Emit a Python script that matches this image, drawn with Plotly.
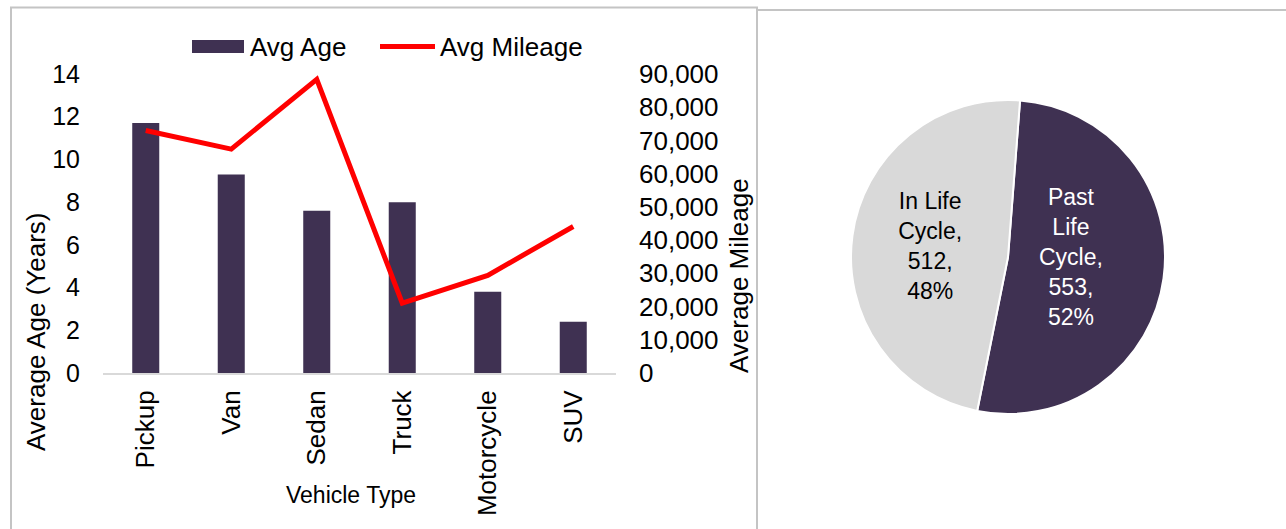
import plotly.graph_objects as go

# ---- data ----
vehicle_types = ["Pickup", "Van", "Sedan", "Truck", "Motorcycle", "SUV"]
avg_age = [11.7, 9.3, 7.6, 8.0, 3.8, 2.4]
avg_mileage = [73000, 67400, 88400, 21000, 29400, 44100]

pie_labels = ["Past Life Cycle", "In Life Cycle"]
pie_wrapped = ["Past<br>Life<br>Cycle", "In Life<br>Cycle"]
pie_values = [553, 512]

W, H = 1286, 529
FONT = "Liberation Sans, Arial, sans-serif"
DARK = "#3f3152"
LIGHT = "#d9d9d9"
BORDER = "#c4c4c4"


def px(x):
    return x / W


def py(y):
    return 1 - y / H


fig = go.Figure()

fig.add_trace(go.Bar(
    x=vehicle_types, y=avg_age, name="Avg Age",
    marker=dict(color=DARK, line=dict(width=0)),
    xaxis="x", yaxis="y",
))
fig.add_trace(go.Scatter(
    x=vehicle_types, y=avg_mileage, name="Avg Mileage", mode="lines",
    line=dict(color="#ff0000", width=5),
    xaxis="x", yaxis="y2",
))

fig.add_trace(go.Pie(
    labels=pie_labels, values=pie_values, customdata=pie_wrapped,
    sort=False, direction="clockwise", rotation=4.4,
    marker=dict(colors=[DARK, LIGHT], line=dict(color="white", width=2)),
    texttemplate="%{customdata},<br>%{value},<br>%{percent:.0%}",
    textposition="inside", insidetextorientation="horizontal",
    textfont=dict(family=FONT, size=23, color=["white", "black"]),
    domain=dict(x=[px(851), px(1165)], y=[py(414), py(100)]),
    showlegend=False, hoverinfo="skip", automargin=False,
))

tickfont = dict(family=FONT, size=26, color="black")

fig.update_layout(
    template="none",
    width=W, height=H, autosize=False,
    margin=dict(l=0, r=0, t=0, b=0, pad=0, autoexpand=False),
    paper_bgcolor="white", plot_bgcolor="white",
    font=dict(family=FONT, color="black"),
    showlegend=False,
    bargap=0.684,
    xaxis=dict(
        domain=[px(103), px(616)], anchor="y", automargin=False,
        showline=True, linecolor=LIGHT, linewidth=2,
        showgrid=False, zeroline=False, ticks="",
        tickangle=-90, tickfont=tickfont, ticklabelstandoff=5,
        fixedrange=True,
    ),
    yaxis=dict(
        domain=[py(373), py(74)], anchor="x", automargin=False,
        range=[0, 14], dtick=2, showgrid=False, zeroline=False,
        showline=False, ticks="", tickfont=dict(family=FONT, size=25, color="black"),
        ticklabelstandoff=22,
    ),
    yaxis2=dict(
        overlaying="y", side="right", anchor="x", automargin=False,
        range=[0, 90000], dtick=10000, tickformat=",d",
        showgrid=False, zeroline=False, showline=False, ticks="",
        tickfont=tickfont, ticklabelstandoff=22,
    ),
)

shapes = [
    # panel borders
    dict(type="rect", xref="paper", yref="paper",
         x0=px(11), x1=px(757), y0=-0.1, y1=py(7.5),
         line=dict(color=BORDER, width=2), layer="below"),
    dict(type="rect", xref="paper", yref="paper",
         x0=px(757), x1=1.1, y0=-0.1, y1=py(10),
         line=dict(color=BORDER, width=2), layer="below"),
    # legend symbols
    dict(type="rect", xref="paper", yref="paper",
         x0=px(192), x1=px(244), y0=py(53), y1=py(40),
         fillcolor=DARK, line=dict(width=0)),
    dict(type="line", xref="paper", yref="paper",
         x0=px(380), x1=px(435), y0=py(46.5), y1=py(46.5),
         line=dict(color="#ff0000", width=5)),
]

annotations = [
    dict(text="Avg Age", x=px(248), y=py(46.5), xref="paper", yref="paper",
         xanchor="left", yanchor="middle", showarrow=False,
         font=dict(family=FONT, size=26, color="black")),
    dict(text="Avg Mileage", x=px(438), y=py(46.5), xref="paper", yref="paper",
         xanchor="left", yanchor="middle", showarrow=False,
         font=dict(family=FONT, size=26, color="black")),
    dict(text="Average Age (Years)", x=px(36), y=py(332), xref="paper", yref="paper",
         xanchor="center", yanchor="middle", textangle=-90, showarrow=False,
         font=dict(family=FONT, size=26, color="black")),
    dict(text="Average Mileage", x=px(739), y=py(276), xref="paper", yref="paper",
         xanchor="center", yanchor="middle", textangle=-90, showarrow=False,
         font=dict(family=FONT, size=26, color="black")),
    dict(text="Vehicle Type", x=px(351), y=py(495), xref="paper", yref="paper",
         xanchor="center", yanchor="middle", showarrow=False,
         font=dict(family=FONT, size=23, color="black")),
]

fig.update_layout(shapes=shapes, annotations=annotations)

fig.write_html("out.html")
